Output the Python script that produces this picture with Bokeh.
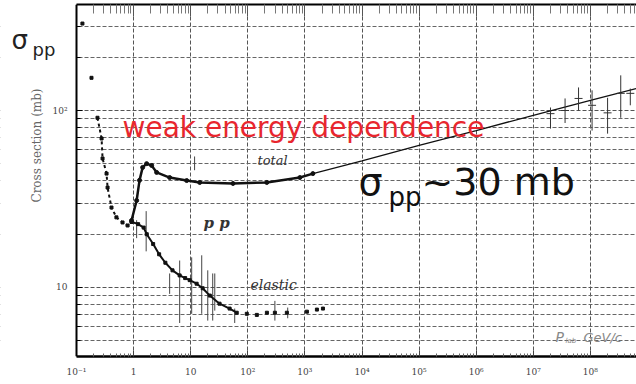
import math
from bokeh.plotting import figure
from bokeh.models import Range1d, FixedTicker, LogAxis, Label
from bokeh.embed import file_html
from bokeh.resources import INLINE

# ---------------- data ----------------
# low-energy points (total = elastic below ~0.9 GeV/c)
low_p = [0.127, 0.183, 0.233, 0.275, 0.286, 0.336, 0.35, 0.41, 0.50, 0.64, 0.785, 0.92]
low_mb = [310, 153, 91, 69.5, 53.6, 44, 36.7, 28.3, 24.9, 23.3, 22.4, 23.5]

# total cross section
tot_p = [0.92, 1.13, 1.27, 1.44, 1.69, 2.07, 2.53, 4.28, 8.5, 14.4, 55, 215, 817, 1380]
tot_mb = [23.9, 31, 40.3, 47.7, 50.1, 48.9, 44.7, 41.8, 40.2, 39.2, 38.7, 39.2, 41.8, 44.0]
tot_err_p = [11.7]
tot_err_lo = [46]
tot_err_hi = [55]

# high energy fit curve
fit_p = [1380, 1e4, 1e5, 1e6, 1e7, 1e8, 6.3e8]
fit_mb = [44.0, 52, 63.5, 77, 94, 114, 133]

# high energy measurements with errors
hi_p = [2.0e7, 3.6e7, 6.2e7, 1.07e8, 2.0e8, 3.4e8, 5.0e8]
hi_mb = [96, 100, 117, 107, 97, 125, 125]
hi_lo = [79, 85, 100, 77, 74, 91, 107]
hi_hi = [104, 117, 135, 130, 118, 158, 133]

# elastic cross section
el_p = [0.92, 1.2, 1.5, 1.7, 2.2, 2.8, 3.6, 4.8, 6.4, 8.0, 9.6, 12.7, 16.2, 21.6, 32, 48, 64]
el_mb = [23.5, 22.8, 21.8, 20.0, 17.6, 15.4, 13.8, 12.5, 11.7, 11.3, 11.0, 10.5, 9.9, 9.0, 8.1, 7.6, 7.2]
elt_p = [96, 144, 216, 298, 483, 1084, 1623, 2070]
elt_mb = [7.1, 7.0, 7.2, 7.2, 7.2, 7.3, 7.5, 7.6]
ele_p = [1.13, 1.66, 4.28, 6.41, 10.4, 15.6, 19.9, 24.3, 26.4, 59, 298, 500]
ele_lo = [19, 16, 9.2, 6.3, 7.1, 7.1, 6.5, 6.5, 7.4, 6.3, 6.5, 6.7]
ele_hi = [24, 27, 12.0, 14.2, 14.8, 15.2, 12.5, 12.0, 12.0, 7.6, 8.4, 7.7]

# axis ticks
x_decades = [10.0 ** k for k in range(-1, 9)]
x_labels = ["10\u207b\u00b9", "1", "10", "10\u00b2", "10\u00b3", "10\u2074",
            "10\u2075", "10\u2076", "10\u2077", "10\u2078"]
y_decades = [10, 100]
y_labels = ["10", "10\u00b2"]

# ---------------- geometry: pixel <-> data (for annotations) ----------------
FRAME_L = 76        # pixel where the plotted area starts (p = 0.1)
DEC_X = 57.1        # pixels per decade in x
DEC_Y = 177.0       # pixels per decade in y
W, H = 636, 384


def X(px):
    return 10 ** (-1 + (px - FRAME_L) / DEC_X)


def Y(py):
    return 10 ** (2 - (py - 110) / DEC_Y)


XLO, XMAX = X(0), X(W)
YMIN, YMAX = 10 ** 0.61, 10 ** 2.599

p = figure(width=W, height=H, x_axis_type="log", y_axis_type="log",
           x_range=Range1d(XLO, XMAX), y_range=Range1d(YMIN, YMAX),
           output_backend="svg", toolbar_location=None,
           min_border_left=0, min_border_right=0, min_border_top=4, min_border_bottom=28)
p.outline_line_color = None
p.background_fill_color = "white"
p.border_fill_color = "white"

x_minor = [m * d for d in x_decades for m in range(2, 10)]
y_minor = [m * d for d in [1, 10, 100] for m in range(2, 10)]
xt = FixedTicker(ticks=x_decades, minor_ticks=x_minor)
yt = FixedTicker(ticks=y_decades, minor_ticks=y_minor)

xa = p.xaxis[0]
xa.ticker = xt
xa.bounds = (0.1, XMAX)
xa.major_label_overrides = {v: s for v, s in zip(x_decades, x_labels)}
xa.major_tick_in = 6
xa.major_tick_out = 0
xa.minor_tick_in = 3
xa.minor_tick_out = 0
xa.axis_line_width = 2.5
xa.axis_line_color = "black"
xa.major_tick_line_color = "#444"
xa.minor_tick_line_color = "#666"
xa.major_label_text_font = "DejaVu Serif"
xa.major_label_text_font_size = "9px"
xa.major_label_text_color = "#444"
xa.major_label_standoff = 10

ya = p.yaxis[0]
ya.ticker = yt
ya.fixed_location = 0.1
ya.major_label_overrides = {v: s for v, s in zip(y_decades, y_labels)}
ya.major_tick_in = 6
ya.major_tick_out = 0
ya.minor_tick_in = 4
ya.minor_tick_out = 0
ya.axis_line_width = 2
ya.axis_line_color = "black"
ya.major_label_text_font = "DejaVu Serif"
ya.major_label_text_font_size = "9px"
ya.major_label_text_color = "#444"
ya.major_label_standoff = 9

top = LogAxis(ticker=xt, bounds=(0.1, XMAX), major_label_text_color=None,
              major_tick_in=12, major_tick_out=0, minor_tick_in=9, minor_tick_out=0,
              axis_line_width=2, axis_line_color="black",
              major_tick_line_color="#555", minor_tick_line_color="#777",
              major_label_standoff=0)
p.add_layout(top, "above")

for g in (p.xgrid[0], p.ygrid[0]):
    g.grid_line_color = "#555555"
    g.grid_line_dash = "4 2"
    g.grid_line_width = 1
p.ygrid[0].minor_grid_line_color = "#666666"
p.ygrid[0].minor_grid_line_dash = "4 2"
p.ygrid[0].minor_grid_line_width = 1

# white margin left of the plotted area (hides grid lines there)
p.quad(left=[XLO], right=[0.1], bottom=[YMIN], top=[YMAX],
       fill_color="white", line_color=None)

# ---------------- data marks ----------------
ink = "#111111"
p.scatter(low_p, low_mb, marker="square", size=3, color=ink)
p.line(low_p[2:], low_mb[2:], line_width=2, line_dash="3 3", color=ink)

p.segment(ele_p, ele_lo, ele_p, ele_hi, line_width=1, color="#444444")
p.line(el_p, el_mb, line_width=2, color=ink)
p.scatter(el_p, el_mb, marker="square", size=3, color=ink)
p.scatter(elt_p, elt_mb, marker="square", size=3, color=ink)

p.segment(tot_err_p, tot_err_lo, tot_err_p, tot_err_hi, line_width=1, color="#444444")
p.line(tot_p, tot_mb, line_width=2.5, color=ink)
p.scatter(tot_p, tot_mb, size=4, color=ink)
p.line(fit_p, fit_mb, line_width=1.3, color=ink)

p.segment(hi_p, hi_lo, hi_p, hi_hi, line_width=1, color="#333333")
p.scatter(hi_p, hi_mb, marker="dash", size=8, color="#333333")

# ---------------- annotations ----------------


def lab(txt, px, py, size, color="#222222", font="DejaVu Sans", style="normal",
        angle=0.0, align="left", baseline="alphabetic"):
    p.add_layout(Label(x=X(px), y=Y(py), text=txt, text_font=font, text_font_size=size,
                       text_color=color, text_font_style=style, text_baseline=baseline,
                       text_align=align, angle=angle))


lab("total", 257, 160, "13px", "#333333", "DejaVu Serif", "italic")
lab("p p", 203, 223, "15px", "#333333", "DejaVu Serif", "bold italic")
lab("elastic", 250, 285, "14px", "#333333", "DejaVu Serif", "italic")
lab("weak energy dependence", 122, 127, "28px", "#e8262e")
lab("\u03c3", 358, 182, "38px", "#111111")
lab("pp", 388, 197, "26px", "#111111")
lab("~30 mb", 421, 182, "38px", "#111111")
lab("P", 555, 337, "14px", "#888888", "DejaVu Sans", "italic")
lab("lab", 565, 341, "7px", "#888888", "DejaVu Sans", "italic")
lab("GeV/c", 583, 337, "13px", "#888888", "DejaVu Sans", "italic")
lab("\u03c3", 11, 39, "26px", "#222222")
lab("pp", 32, 49, "18px", "#222222")
lab("Cross section (mb)", 36, 145, "12px", "#666666", "DejaVu Serif", "normal",
    angle=math.pi / 2, align="center", baseline="middle")

open("out.html", "w").write(file_html(p, INLINE))
